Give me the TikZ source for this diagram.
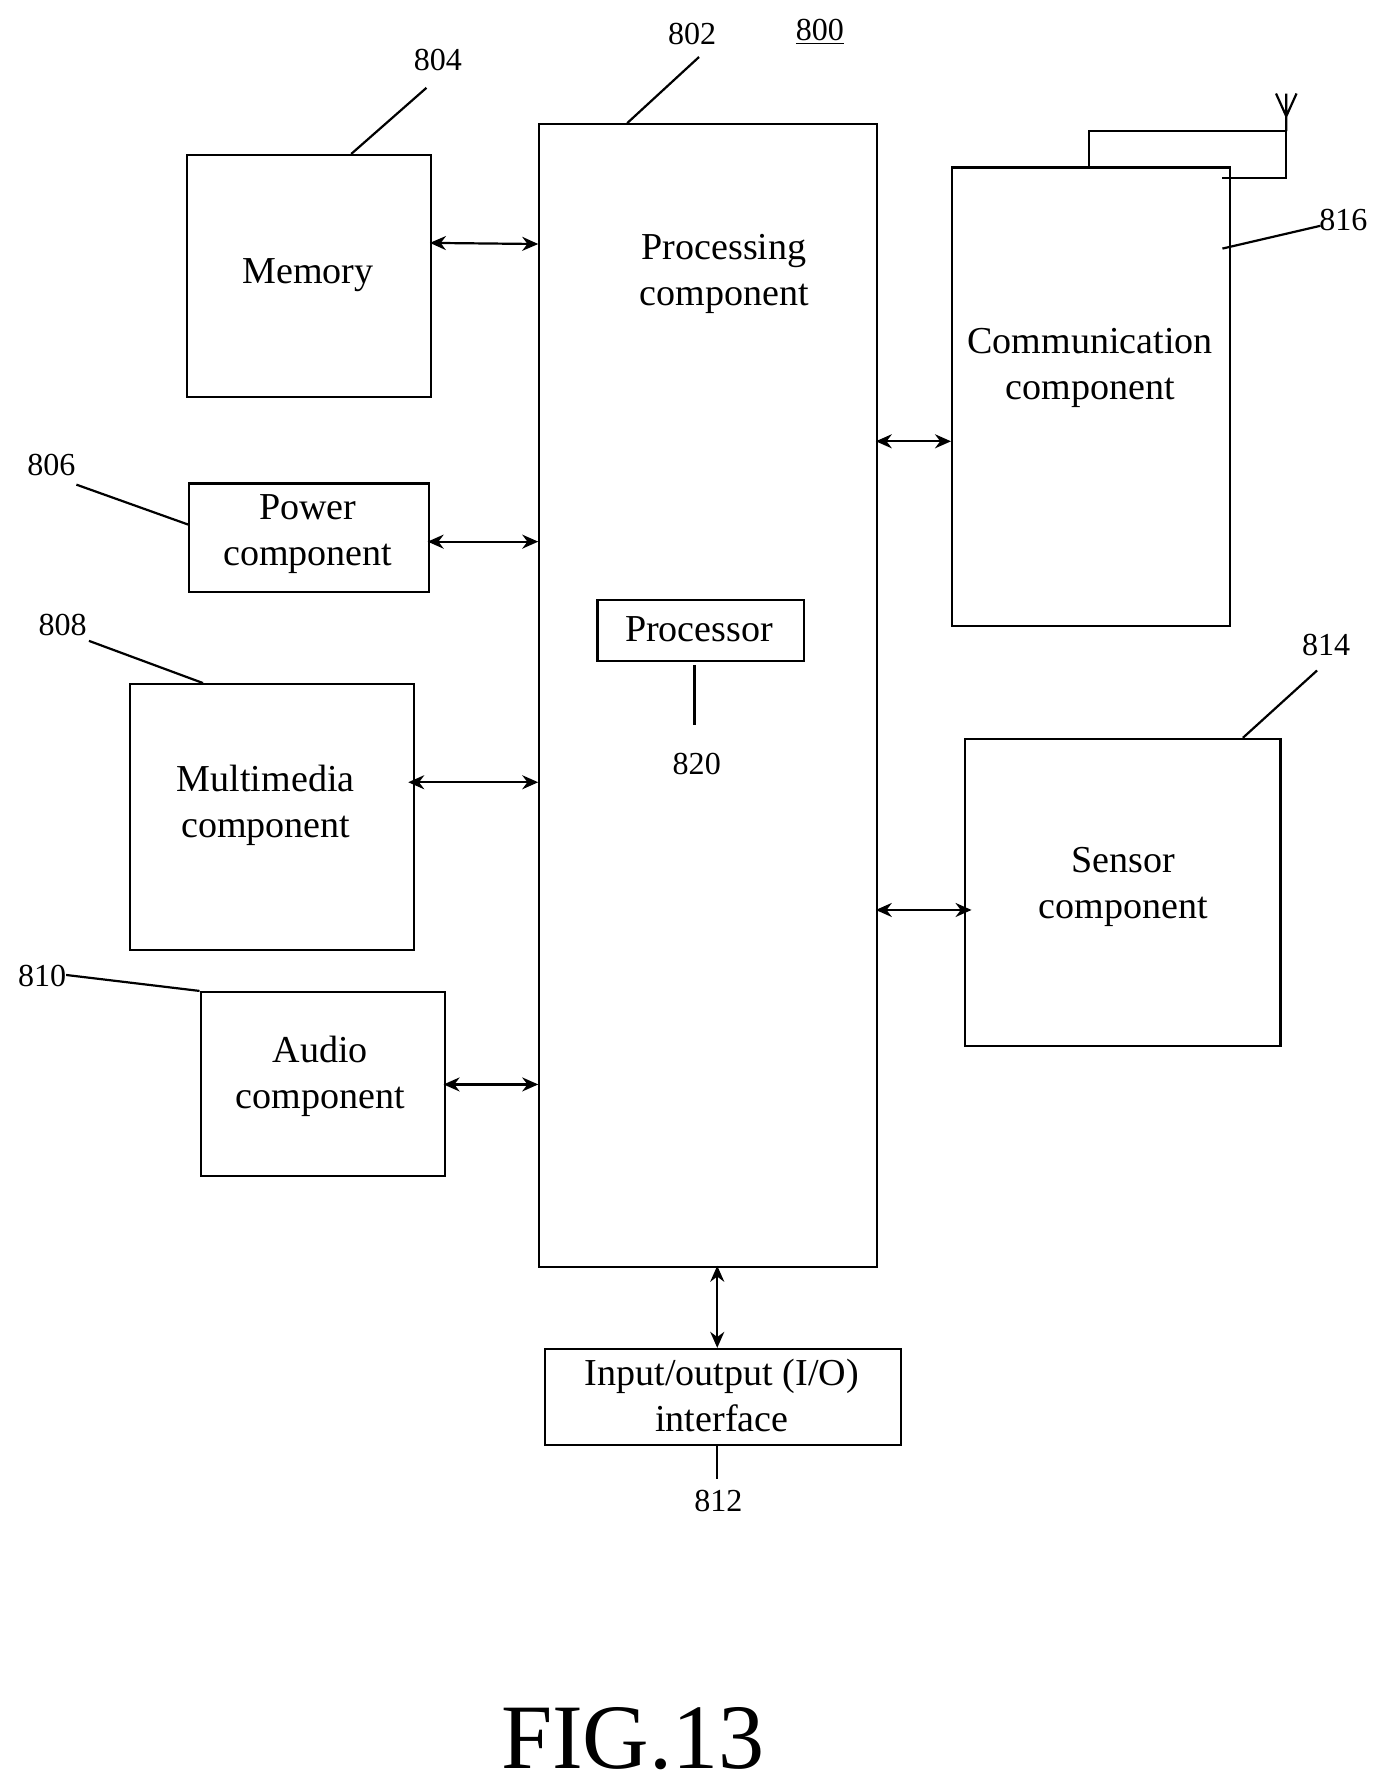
\documentclass[tikz,border=0pt]{standalone}
\usepackage{fontspec}
\setmainfont{Liberation Serif}
\usetikzlibrary{arrows.meta}
\begin{document}
\begin{tikzpicture}[x=0.02cm,y=-0.02cm,
  box/.style={draw,line width=1.1pt,anchor=north west,inner sep=0pt},
  txt/.style={align=center,font=\fontsize{19}{23}\selectfont},
  num/.style={font=\fontsize{16}{18}\selectfont},
  link/.style={line width=1.1pt,{Stealth[length=8pt,width=7pt]}-{Stealth[length=8pt,width=7pt]}}]
\useasboundingbox (0,0) rectangle (1215,1568);
% blocks
\node[box,minimum width=296*0.02cm,minimum height=1002*0.02cm] (proc) at (472,108) {};
\node[box,minimum width=214*0.02cm,minimum height=212*0.02cm] (mem) at (163,135) {};
\node[box,minimum width=210*0.02cm,minimum height=95*0.02cm] (pow) at (165,423) {};
\node[box,minimum width=249*0.02cm,minimum height=233*0.02cm] (mm) at (113,599) {};
\node[box,minimum width=214*0.02cm,minimum height=161*0.02cm] (aud) at (175,869) {};
\node[box,minimum width=244*0.02cm,minimum height=402*0.02cm] (comm) at (834,146) {};
\node[box,minimum width=277*0.02cm,minimum height=269*0.02cm] (sens) at (845,647) {};
\node[box,minimum width=181*0.02cm,minimum height=54*0.02cm] (cpu) at (523,525) {};
\node[box,minimum width=312*0.02cm,minimum height=84*0.02cm] (io) at (477,1182) {};
% texts
\node[txt] (tproc) at (635,240) {Processing\\component};
\node[txt] (tmem) at (270,241) {Memory};
\node[txt] (tpow) at (270,468) {Power\\component};
\node[txt] (tmm) at (233,706) {Multimedia\\component};
\node[txt] (taud) at (281,944) {Audio\\component};
\node[txt] (tcomm) at (956,323) {Communication\\component};
\node[txt] (tsens) at (985,778) {Sensor\\component};
\node[txt] (tcpu) at (613,552) {Processor};
\node[txt] (tio) at (633,1224) {Input/output (I/O)\\interface};
% links
\draw[link] (377,213) -- (472,214);
\draw[link] (375,475) -- (472,475);
\draw[link] (358,686) -- (472,686);
\draw[link] (389,951) -- (472,951);
\draw[link] (768,387) -- (834,387);
\draw[link] (768,798) -- (852,798);
\draw[link] (629,1110) -- (629,1182);
% antenna
\draw[line width=1.1pt] (955,146) -- (955,115) -- (1128,115) -- (1128,156) -- (1072,156);
\draw[line width=1.1pt] (1128,115) -- (1128,82) (1119,82) -- (1128,102) -- (1137,82);
% reference numerals
\node[num] (n804) at (384,53) {804};
\draw[line width=1.1pt] (308,135) -- (374,77);
\node[num] (n802) at (607,30) {802};
\draw[line width=1.1pt] (550,108) -- (613,50);
\node[num] (n800) at (719,28) {\underline{800}};
\node[num] (n816) at (1178,193) {816};
\draw[line width=1.1pt] (1072,218) -- (1158,198);
\node[num] (n806) at (45,408) {806};
\draw[line width=1.1pt] (67,425) -- (165,460);
\node[num] (n808) at (55,548) {808};
\draw[line width=1.1pt] (78,562) -- (178,599);
\node[num] (n810) at (37,856) {810};
\draw[line width=1.1pt] (58,855) -- (175,869);
\node[num] (n814) at (1163,566) {814};
\draw[line width=1.1pt] (1090,647) -- (1155,588);
\node[num] (n820) at (611,670) {820};
\draw[line width=1.1pt] (609,583) -- (609,636);
\node[num] (n812) at (630,1316) {812};
\draw[line width=1.1pt] (629,1268) -- (629,1297);
\node[font=\fontsize{46}{50}\selectfont] (fig) at (555,1525) {FIG.13};
\end{tikzpicture}
\end{document}
